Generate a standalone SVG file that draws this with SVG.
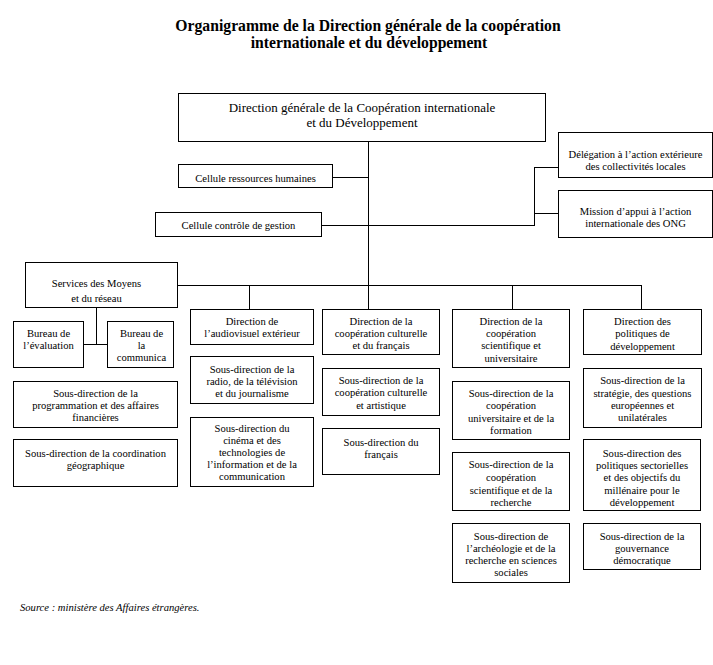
<svg xmlns="http://www.w3.org/2000/svg" width="713" height="665" viewBox="0 0 713 665">
<style>
.box{fill:#fff;stroke:#000;stroke-width:1;shape-rendering:crispEdges}
.ln{stroke:#000;stroke-width:1;fill:none;shape-rendering:crispEdges}
.t{font-family:"Liberation Serif","Times New Roman",serif;font-size:10.6px;text-anchor:middle;fill:#000}
.tb{font-family:"Liberation Serif","Times New Roman",serif;font-size:13px;text-anchor:middle;fill:#000}
.ti{font-family:"Liberation Serif","Times New Roman",serif;font-size:15.7px;font-weight:bold;text-anchor:middle;fill:#000}
.src{font-family:"Liberation Serif","Times New Roman",serif;font-size:10.6px;font-style:italic;fill:#000}
</style>
<rect width="713" height="665" fill="#fff"/>
<g id="title">
<text class="ti" x="368" y="31">Organigramme de la Direction générale de la coopération</text>
<text class="ti" x="369" y="48">internationale et du développement</text>
</g>
<g id="connectors">
<path class="ln" d="M368.5,141 V309"/>
<path class="ln" d="M332,177.5 H368.5"/>
<path class="ln" d="M321,225.5 H534.5"/>
<path class="ln" d="M534.5,167 V225.5"/>
<path class="ln" d="M534.5,167.5 H558"/>
<path class="ln" d="M534.5,213.5 H558"/>
<path class="ln" d="M177,285.5 H641.5"/>
<path class="ln" d="M249.5,285.5 V309"/>
<path class="ln" d="M512.5,285.5 V309"/>
<path class="ln" d="M641.5,285.5 V309"/>
<path class="ln" d="M96.5,307 V344.5"/>
<path class="ln" d="M83,344.5 H107"/>
</g>
<g id="dg">
<rect class="box" x="178.5" y="93.5" width="367" height="48"/>
<text class="tb" x="362" y="111.5">Direction générale de la Coopération internationale</text>
<text class="tb" x="362" y="126.5">et du Développement</text>
</g>
<g id="cellule-rh">
<rect class="box" x="178.5" y="164.5" width="154" height="23"/>
<text class="t" x="255.5" y="181.5">Cellule ressources humaines</text>
</g>
<g id="cellule-cg">
<rect class="box" x="155.5" y="212.5" width="166" height="24"/>
<text class="t" x="238.5" y="228.5">Cellule contrôle de gestion</text>
</g>
<g id="delegation">
<rect class="box" x="558.5" y="132.5" width="154" height="45"/>
<text class="t" x="635.5" y="158">Délégation à l’action extérieure</text>
<text class="t" x="635.5" y="170">des collectivités locales</text>
</g>
<g id="mission">
<rect class="box" x="558.5" y="190.5" width="154" height="47"/>
<text class="t" x="635.5" y="215">Mission d’appui à l’action</text>
<text class="t" x="635.5" y="227">internationale des ONG</text>
</g>
<g id="services">
<rect class="box" x="25.5" y="262.5" width="152" height="45"/>
<text class="t" x="96.5" y="287">Services des Moyens</text>
<text class="t" x="96.5" y="302">et du réseau</text>
</g>
<g id="bureau-eval">
<rect class="box" x="13.5" y="321.5" width="70" height="46"/>
<text class="t" x="48.5" y="337">Bureau de</text>
<text class="t" x="48.5" y="349">l’évaluation</text>
</g>
<g id="bureau-comm">
<rect class="box" x="107.5" y="321.5" width="66" height="46"/>
<text class="t" x="141.5" y="337">Bureau de</text>
<text class="t" x="141.5" y="349">la</text>
<text class="t" x="141.5" y="361">communica</text>
</g>
<g id="sd-prog">
<rect class="box" x="13.5" y="381.5" width="164" height="46"/>
<text class="t" x="95.5" y="397">Sous-direction de la</text>
<text class="t" x="95.5" y="409">programmation et des affaires</text>
<text class="t" x="95.5" y="421">financières</text>
</g>
<g id="sd-coord">
<rect class="box" x="13.5" y="439.5" width="164" height="47"/>
<text class="t" x="95.5" y="457">Sous-direction de la coordination</text>
<text class="t" x="95.5" y="468.5">géographique</text>
</g>
<g id="dir-audio">
<rect class="box" x="190.5" y="309.5" width="123" height="35"/>
<text class="t" x="252" y="325">Direction de</text>
<text class="t" x="252" y="337">l’audiovisuel extérieur</text>
</g>
<g id="sd-radio">
<rect class="box" x="190.5" y="356.5" width="123" height="47"/>
<text class="t" x="252" y="373">Sous-direction de la</text>
<text class="t" x="252" y="385">radio, de la télévision</text>
<text class="t" x="252" y="397">et du journalisme</text>
</g>
<g id="sd-cinema">
<rect class="box" x="190.5" y="417.5" width="123" height="69"/>
<text class="t" x="252" y="432">Sous-direction du</text>
<text class="t" x="252" y="444">cinéma et des</text>
<text class="t" x="252" y="456">technologies de</text>
<text class="t" x="252" y="468">l’information et de la</text>
<text class="t" x="252" y="480">communication</text>
</g>
<g id="dir-culturelle">
<rect class="box" x="322.5" y="309.5" width="117" height="45"/>
<text class="t" x="381" y="325">Direction de la</text>
<text class="t" x="381" y="337">coopération culturelle</text>
<text class="t" x="381" y="349">et du français</text>
</g>
<g id="sd-culturelle">
<rect class="box" x="322.5" y="368.5" width="117" height="47"/>
<text class="t" x="381" y="384">Sous-direction de la</text>
<text class="t" x="381" y="396">coopération culturelle</text>
<text class="t" x="381" y="408.5">et artistique</text>
</g>
<g id="sd-francais">
<rect class="box" x="322.5" y="428.5" width="117" height="46"/>
<text class="t" x="381" y="446">Sous-direction du</text>
<text class="t" x="381" y="457.5">français</text>
</g>
<g id="dir-scientifique">
<rect class="box" x="452.5" y="309.5" width="117" height="58"/>
<text class="t" x="511" y="325">Direction de la</text>
<text class="t" x="511" y="337">coopération</text>
<text class="t" x="511" y="349">scientifique et</text>
<text class="t" x="511" y="362">universitaire</text>
</g>
<g id="sd-universitaire">
<rect class="box" x="452.5" y="381.5" width="117" height="58"/>
<text class="t" x="511" y="397">Sous-direction de la</text>
<text class="t" x="511" y="409">coopération</text>
<text class="t" x="511" y="421.5">universitaire et de la</text>
<text class="t" x="511" y="434">formation</text>
</g>
<g id="sd-recherche">
<rect class="box" x="452.5" y="452.5" width="117" height="58"/>
<text class="t" x="511" y="468">Sous-direction de la</text>
<text class="t" x="511" y="481">coopération</text>
<text class="t" x="511" y="493.5">scientifique et de la</text>
<text class="t" x="511" y="506">recherche</text>
</g>
<g id="sd-archeologie">
<rect class="box" x="452.5" y="523.5" width="117" height="59"/>
<text class="t" x="511" y="540">Sous-direction de</text>
<text class="t" x="511" y="552">l’archéologie et de la</text>
<text class="t" x="511" y="564">recherche en sciences</text>
<text class="t" x="511" y="576">sociales</text>
</g>
<g id="dir-politiques">
<rect class="box" x="583.5" y="309.5" width="118" height="45"/>
<text class="t" x="642.5" y="325">Direction des</text>
<text class="t" x="642.5" y="337">politiques de</text>
<text class="t" x="642.5" y="350">développement</text>
</g>
<g id="sd-strategie">
<rect class="box" x="583.5" y="368.5" width="118" height="59"/>
<text class="t" x="642.5" y="384">Sous-direction de la</text>
<text class="t" x="642.5" y="397">stratégie, des questions</text>
<text class="t" x="642.5" y="409">européennes et</text>
<text class="t" x="642.5" y="421">unilatérales</text>
</g>
<g id="sd-sectorielles">
<rect class="box" x="583.5" y="439.5" width="117" height="71"/>
<text class="t" x="642" y="457">Sous-direction des</text>
<text class="t" x="642" y="469">politiques sectorielles</text>
<text class="t" x="642" y="481">et des objectifs du</text>
<text class="t" x="642" y="494">millénaire pour le</text>
<text class="t" x="642" y="506">développement</text>
</g>
<g id="sd-gouvernance">
<rect class="box" x="583.5" y="523.5" width="117" height="46"/>
<text class="t" x="642" y="540">Sous-direction de la</text>
<text class="t" x="642" y="552">gouvernance</text>
<text class="t" x="642" y="564">démocratique</text>
</g>
<text class="src" x="20" y="611">Source : ministère des Affaires étrangères.</text>
</svg>
